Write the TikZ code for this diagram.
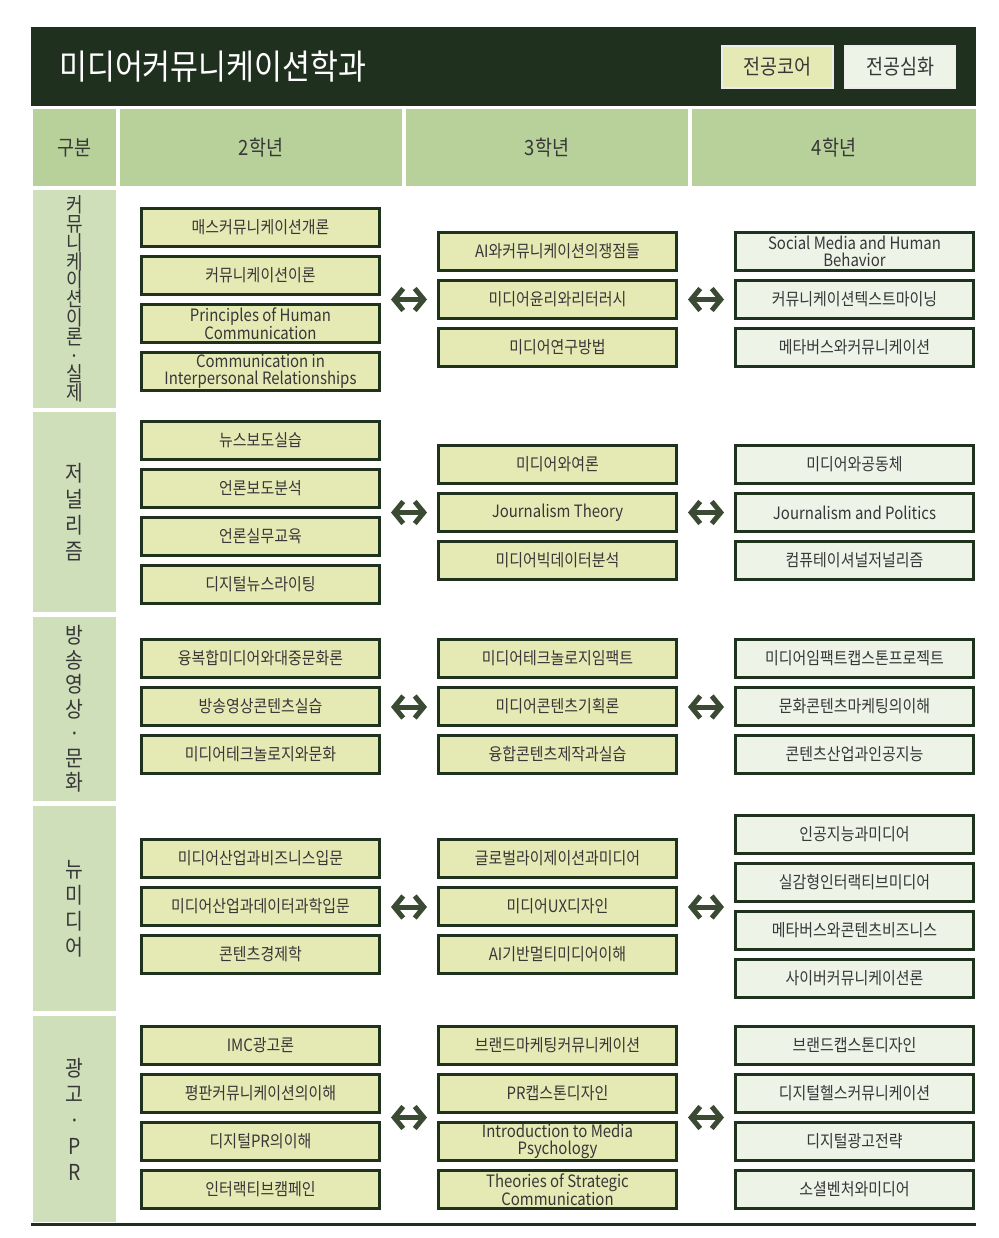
\documentclass[tikz,border=0pt]{standalone}
\usepackage{fontspec}
\setmainfont{Noto Sans CJK KR}[FakeStretch=0.88]
\usetikzlibrary{arrows.meta}

\definecolor{darkband}{RGB}{31,48,30}
\definecolor{headfill}{RGB}{184,209,155}
\definecolor{trackfill}{RGB}{207,223,186}
\definecolor{corefill}{RGB}{229,234,181}
\definecolor{advfill}{RGB}{238,243,232}
\definecolor{boxline}{RGB}{30,50,30}
\definecolor{arrowgreen}{RGB}{59,74,50}
\definecolor{txtgray}{RGB}{55,55,55}

\tikzset{
  course/.style={draw=boxline, line width=3pt, minimum width=238pt, minimum height=38pt, inner sep=0pt, align=center, text=txtgray, font=\fontsize{17}{17}\selectfont},
  core/.style={course, fill=corefill},
  adv/.style={course, fill=advfill},
  yearhead/.style={fill=headfill, minimum height=77pt, inner sep=0pt, text=txtgray, font=\fontsize{21}{22}\selectfont},
  track/.style={fill=trackfill, minimum width=83pt, inner sep=0pt, align=center, text=txtgray, font=\fontsize{22}{26}\selectfont},
  legend/.style={draw=white!85!gray, line width=1.5pt, minimum width=111pt, minimum height=42pt, inner sep=0pt, text=txtgray, font=\fontsize{21}{22}\selectfont},
  biarrow/.style={arrowgreen, line width=5pt, {Straight Barb[length=9pt,width=22pt]}-{Straight Barb[length=9pt,width=22pt]}}
}

\begin{document}
\begin{tikzpicture}[x=1pt, y=-1pt]
    \useasboundingbox (0,0) rectangle (998,1238);

    % Title band
    \fill[darkband] (31,27) rectangle (976,106);
    \node[anchor=west, inner sep=0pt, text=white, font=\fontsize{34.5}{35}\selectfont] (title) at (59,67) {미디어커뮤니케이션학과};
    \node[legend, fill=corefill] (lgcore) at (777.5,67) {전공코어};
    \node[legend, fill=advfill] (lgadv) at (900,67) {전공심화};

    % Year header
    \node[yearhead, minimum width=83pt] (h1) at (74.5,147.5) {구분};
    \node[yearhead, minimum width=282pt] (h2) at (261,147.5) {2학년};
    \node[yearhead, minimum width=282pt] (h3) at (547,147.5) {3학년};
    \node[yearhead, minimum width=284pt] (h4) at (834,147.5) {4학년};

    % Track labels
    \node[track, minimum height=218pt, font=\fontsize{20.5}{18.8}\selectfont] (t1) at (74.5,299) {커\\뮤\\니\\케\\이\\션\\이\\론\\·\\실\\제};
    \node[track, minimum height=200pt] (t2) at (74.5,512) {저\\널\\리\\즘};
    \node[track, minimum height=184pt, font=\fontsize{22}{24.5}\selectfont] (t3) at (74.5,709) {방\\송\\영\\상\\·\\문\\화};
    \node[track, minimum height=205pt] (t4) at (74.5,908.5) {뉴\\미\\디\\어};
    \node[track, minimum height=206pt] (t5) at (74.5,1119) {광\\고\\·\\P\\R};

    % Row 1
    \foreach \t [count=\i] in {매스커뮤니케이션개론, 커뮤니케이션이론, {Principles of Human\\Communication}, {Communication in\\Interpersonal Relationships}}
        \node[core] (r1y2-\i) at (260.5, {227.5+48*(\i-1)}) {\t};
    \foreach \t [count=\i] in {AI와커뮤니케이션의쟁점들, 미디어윤리와리터러시, 미디어연구방법}
        \node[core] (r1y3-\i) at (557.5, {251.5+48*(\i-1)}) {\t};
    \foreach \t [count=\i] in {{Social Media and Human\\Behavior}, 커뮤니케이션텍스트마이닝, 메타버스와커뮤니케이션}
        \node[adv] (r1y4-\i) at (854.5, {251.5+48*(\i-1)}) {\t};

    % Row 2
    \foreach \t [count=\i] in {뉴스보도실습, 언론보도분석, 언론실무교육, 디지털뉴스라이팅}
        \node[core] (r2y2-\i) at (260.5, {440.5+48*(\i-1)}) {\t};
    \foreach \t [count=\i] in {미디어와여론, Journalism Theory, 미디어빅데이터분석}
        \node[core] (r2y3-\i) at (557.5, {464.5+48*(\i-1)}) {\t};
    \foreach \t [count=\i] in {미디어와공동체, Journalism and Politics, 컴퓨테이셔널저널리즘}
        \node[adv] (r2y4-\i) at (854.5, {464.5+48*(\i-1)}) {\t};

    % Row 3
    \foreach \t [count=\i] in {융복합미디어와대중문화론, 방송영상콘텐츠실습, 미디어테크놀로지와문화}
        \node[core] (r3y2-\i) at (260.5, {658.5+48*(\i-1)}) {\t};
    \foreach \t [count=\i] in {미디어테크놀로지임팩트, 미디어콘텐츠기획론, 융합콘텐츠제작과실습}
        \node[core] (r3y3-\i) at (557.5, {658.5+48*(\i-1)}) {\t};
    \foreach \t [count=\i] in {미디어임팩트캡스톤프로젝트, 문화콘텐츠마케팅의이해, 콘텐츠산업과인공지능}
        \node[adv] (r3y4-\i) at (854.5, {658.5+48*(\i-1)}) {\t};

    % Row 4
    \foreach \t [count=\i] in {미디어산업과비즈니스입문, 미디어산업과데이터과학입문, 콘텐츠경제학}
        \node[core] (r4y2-\i) at (260.5, {858.5+48*(\i-1)}) {\t};
    \foreach \t [count=\i] in {글로벌라이제이션과미디어, 미디어UX디자인, AI기반멀티미디어이해}
        \node[core] (r4y3-\i) at (557.5, {858.5+48*(\i-1)}) {\t};
    \foreach \t [count=\i] in {인공지능과미디어, 실감형인터랙티브미디어, 메타버스와콘텐츠비즈니스, 사이버커뮤니케이션론}
        \node[adv] (r4y4-\i) at (854.5, {834.5+48*(\i-1)}) {\t};

    % Row 5
    \foreach \t [count=\i] in {IMC광고론, 평판커뮤니케이션의이해, 디지털PR의이해, 인터랙티브캠페인}
        \node[core] (r5y2-\i) at (260.5, {1045.5+48*(\i-1)}) {\t};
    \foreach \t [count=\i] in {브랜드마케팅커뮤니케이션, PR캡스톤디자인, {Introduction to Media\\Psychology}, {Theories of Strategic\\Communication}}
        \node[core] (r5y3-\i) at (557.5, {1045.5+48*(\i-1)}) {\t};
    \foreach \t [count=\i] in {브랜드캡스톤디자인, 디지털헬스커뮤니케이션, 디지털광고전략, 소셜벤처와미디어}
        \node[adv] (r5y4-\i) at (854.5, {1045.5+48*(\i-1)}) {\t};

    % Arrows between years
    \foreach \r/\y in {1/299.5, 2/512.5, 3/707, 4/907, 5/1117.5} {
        \coordinate (la\r) at (391,\y);
        \coordinate (lb\r) at (427,\y);
        \coordinate (ra\r) at (688,\y);
        \coordinate (rb\r) at (724,\y);
        \draw[biarrow] (la\r) -- (lb\r);
        \draw[biarrow] (ra\r) -- (rb\r);
    }

    % Bottom rule
    \draw[line width=3pt, darkband] (31,1224) -- (976,1224);
\end{tikzpicture}
\end{document}
